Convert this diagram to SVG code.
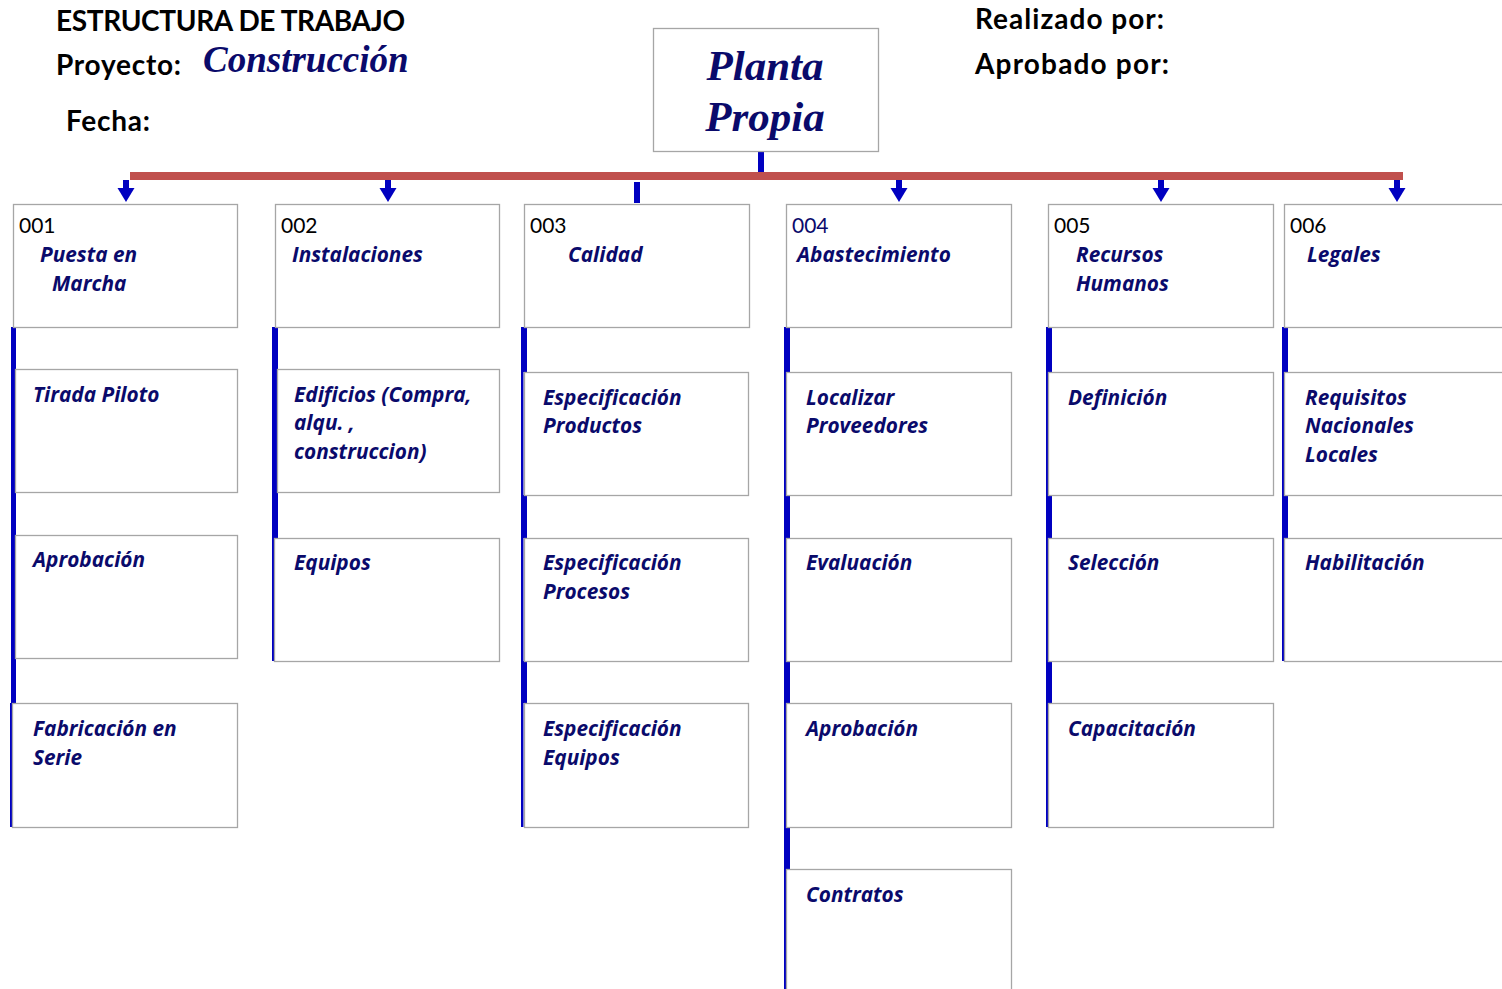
<svg xmlns="http://www.w3.org/2000/svg" width="1502" height="989" viewBox="0 0 1502 989">
<style>
.box{fill:#fff;stroke:#a6a6a6;stroke-width:1.3}
.hdr{font-family:Lato,"Liberation Sans",sans-serif;font-weight:bold;fill:#000;font-size:28px}
.code{font-family:Lato,"Liberation Sans",sans-serif;font-size:21px;fill:#000}
.lbl{font-family:"Open Sans","Liberation Sans",sans-serif;font-weight:bold;font-style:italic;font-size:20.8px;fill:#0a0a6b}
.serif{font-family:"Liberation Serif","Times New Roman",serif;font-weight:bold;font-style:italic;fill:#0a0a6b}
.thick{fill:#0000c0}
</style>
<defs>
<g id="arrow">
<rect x="-3" y="0" width="6" height="9" fill="#0000c0"/>
<path d="M-8.5 8 L8.5 8 L0 22 Z" fill="#0000c0"/>
</g>
</defs>
<g id="title">
<text class="hdr" x="56" y="31" textLength="349">ESTRUCTURA DE TRABAJO</text>
<text class="hdr" x="56" y="75" textLength="125">Proyecto:</text>
<text class="serif" x="203" y="72" font-size="37">Construcción</text>
<text class="hdr" x="66" y="131" textLength="84">Fecha:</text>
<text class="hdr" x="975" y="29" textLength="189">Realizado por:</text>
<text class="hdr" x="975" y="74" textLength="194">Aprobado por:</text>
</g>
<g id="connectors">
<rect class="thick" x="758" y="151" width="6" height="21"/>
<rect x="130" y="172" width="1273" height="8" fill="#c0504d"/>
<use href="#arrow" x="126" y="180"/>
<use href="#arrow" x="388" y="180"/>
<use href="#arrow" x="899" y="180"/>
<use href="#arrow" x="1161" y="180"/>
<use href="#arrow" x="1397" y="180"/>
<rect class="thick" x="634" y="182" width="6" height="21"/>
<!-- col1 -->
<rect class="thick" x="11" y="327" width="5" height="376"/>
<rect class="thick" x="10" y="703" width="2.5" height="124"/>
<!-- col2 -->
<rect class="thick" x="272" y="327" width="6" height="211"/>
<rect class="thick" x="272" y="538" width="2.5" height="123"/>
<!-- col3 -->
<rect class="thick" x="521" y="327" width="2.5" height="500"/>
<rect class="thick" x="521" y="327" width="6" height="45"/>
<rect class="thick" x="521" y="495" width="6" height="43"/>
<rect class="thick" x="521" y="661" width="6" height="42"/>
<!-- col4 -->
<rect class="thick" x="784" y="327" width="2.5" height="662"/>
<rect class="thick" x="784" y="327" width="6" height="45"/>
<rect class="thick" x="784" y="495" width="6" height="43"/>
<rect class="thick" x="784" y="661" width="6" height="42"/>
<rect class="thick" x="784" y="827" width="6" height="42"/>
<!-- col5 -->
<rect class="thick" x="1046" y="327" width="2.5" height="500"/>
<rect class="thick" x="1046" y="327" width="6" height="45"/>
<rect class="thick" x="1046" y="495" width="6" height="43"/>
<rect class="thick" x="1046" y="661" width="6" height="42"/>
<!-- col6 -->
<rect class="thick" x="1282" y="327" width="2.5" height="334"/>
<rect class="thick" x="1282" y="327" width="6" height="45"/>
<rect class="thick" x="1282" y="495" width="6" height="43"/>
</g>
<g id="root">
<rect class="box" x="653.5" y="28.5" width="225" height="123"/>
<text class="serif" x="765" y="80" font-size="43" text-anchor="middle">Planta</text>
<text class="serif" x="765" y="131" font-size="43" text-anchor="middle">Propia</text>
</g>
<g id="n001">
<rect class="box" x="13.5" y="204.5" width="224" height="123"/>
<text class="code" x="19" y="233">001</text>
<text class="lbl" x="40" y="262">Puesta en</text>
<text class="lbl" x="52" y="291">Marcha</text>
</g>
<g id="n001-1">
<rect class="box" x="15.5" y="369.5" width="222" height="123"/>
<text class="lbl" x="33" y="402">Tirada Piloto</text>
</g>
<g id="n001-2">
<rect class="box" x="15.5" y="535.5" width="222" height="123"/>
<text class="lbl" x="33" y="567">Aprobación</text>
</g>
<g id="n001-3">
<rect class="box" x="12.5" y="703.5" width="225" height="124"/>
<text class="lbl" x="33" y="736">Fabricación en</text>
<text class="lbl" x="33" y="765">Serie</text>
</g>
<g id="n002">
<rect class="box" x="275.5" y="204.5" width="224" height="123"/>
<text class="code" x="281" y="233">002</text>
<text class="lbl" x="292" y="262">Instalaciones</text>
</g>
<g id="n002-1">
<rect class="box" x="277.5" y="369.5" width="222" height="123"/>
<text class="lbl" x="294" y="402">Edificios (Compra,</text>
<text class="lbl" x="294" y="430">alqu. ,</text>
<text class="lbl" x="294" y="459">construccion)</text>
</g>
<g id="n002-2">
<rect class="box" x="274.5" y="538.5" width="225" height="123"/>
<text class="lbl" x="294" y="570">Equipos</text>
</g>
<g id="n003">
<rect class="box" x="524.5" y="204.5" width="225" height="123"/>
<text class="code" x="530" y="233">003</text>
<text class="lbl" x="568" y="262">Calidad</text>
</g>
<g id="n003-1">
<rect class="box" x="524.5" y="372.5" width="224" height="123"/>
<text class="lbl" x="543" y="405">Especificación</text>
<text class="lbl" x="543" y="433">Productos</text>
</g>
<g id="n003-2">
<rect class="box" x="524.5" y="538.5" width="224" height="123"/>
<text class="lbl" x="543" y="570">Especificación</text>
<text class="lbl" x="543" y="599">Procesos</text>
</g>
<g id="n003-3">
<rect class="box" x="524.5" y="703.5" width="224" height="124"/>
<text class="lbl" x="543" y="736">Especificación</text>
<text class="lbl" x="543" y="765">Equipos</text>
</g>
<g id="n004">
<rect class="box" x="786.5" y="204.5" width="225" height="123"/>
<text class="code" x="792" y="233" style="fill:#0a0a6b">004</text>
<text class="lbl" x="797" y="262">Abastecimiento</text>
</g>
<g id="n004-1">
<rect class="box" x="786.5" y="372.5" width="225" height="123"/>
<text class="lbl" x="806" y="405">Localizar</text>
<text class="lbl" x="806" y="433">Proveedores</text>
</g>
<g id="n004-2">
<rect class="box" x="786.5" y="538.5" width="225" height="123"/>
<text class="lbl" x="806" y="570">Evaluación</text>
</g>
<g id="n004-3">
<rect class="box" x="786.5" y="703.5" width="225" height="124"/>
<text class="lbl" x="806" y="736">Aprobación</text>
</g>
<g id="n004-4">
<rect class="box" x="786.5" y="869.5" width="225" height="130"/>
<text class="lbl" x="806" y="902">Contratos</text>
</g>
<g id="n005">
<rect class="box" x="1048.5" y="204.5" width="225" height="123"/>
<text class="code" x="1054" y="233">005</text>
<text class="lbl" x="1076" y="262">Recursos</text>
<text class="lbl" x="1076" y="291">Humanos</text>
</g>
<g id="n005-1">
<rect class="box" x="1048.5" y="372.5" width="225" height="123"/>
<text class="lbl" x="1068" y="405">Definición</text>
</g>
<g id="n005-2">
<rect class="box" x="1048.5" y="538.5" width="225" height="123"/>
<text class="lbl" x="1068" y="570">Selección</text>
</g>
<g id="n005-3">
<rect class="box" x="1048.5" y="703.5" width="225" height="124"/>
<text class="lbl" x="1068" y="736">Capacitación</text>
</g>
<g id="n006">
<rect class="box" x="1284.5" y="204.5" width="240" height="123"/>
<text class="code" x="1290" y="233">006</text>
<text class="lbl" x="1307" y="262">Legales</text>
</g>
<g id="n006-1">
<rect class="box" x="1284.5" y="372.5" width="240" height="123"/>
<text class="lbl" x="1305" y="405">Requisitos</text>
<text class="lbl" x="1305" y="433">Nacionales</text>
<text class="lbl" x="1305" y="462">Locales</text>
</g>
<g id="n006-2">
<rect class="box" x="1284.5" y="538.5" width="240" height="123"/>
<text class="lbl" x="1305" y="570">Habilitación</text>
</g>
</svg>
